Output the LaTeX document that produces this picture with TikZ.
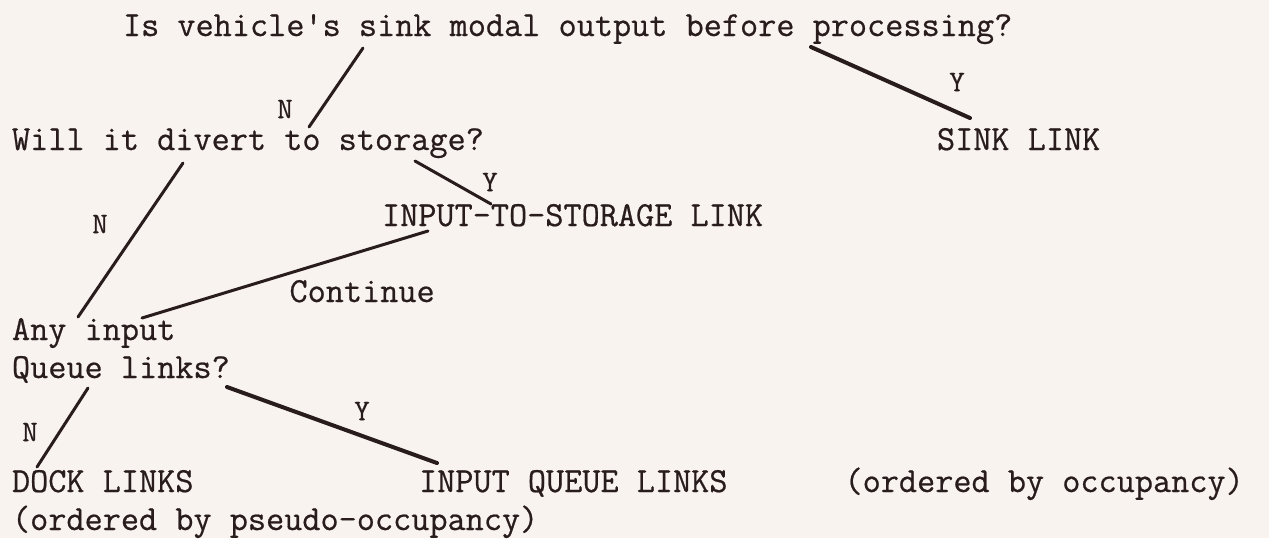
\documentclass[tikz,border=0pt]{standalone}
\usepackage{fontspec}
\setmonofont{Latin Modern Mono}[FakeBold=0.6]
\usetikzlibrary{calc}
\definecolor{paper}{RGB}{248,243,238}
\definecolor{ink}{RGB}{40,28,28}
\tikzset{
  txt/.style={anchor=base west, inner sep=0pt, outer sep=0pt, text=ink,
              font=\fontsize{17.62}{19}\selectfont\ttfamily},
  lbl/.style={anchor=center, inner sep=0pt, outer sep=0pt, text=ink,
              font=\fontsize{15}{16}\selectfont\ttfamily},
  branch/.style={draw=ink, line width=1.5pt, line cap=round},
  heavy/.style={branch, line width=2pt},
}
\begin{document}
\begin{tikzpicture}[x=0.5pt,y=-0.5pt]
% sheet
\fill[paper] (0,0) rectangle (1269,538);
\useasboundingbox (0,0) rectangle (1269,538);

% typed lines (column pitch 18.5, line pitch 38)
\node[txt] (top)   at (123,36)   {Is vehicle's sink modal output before processing?};
\node[txt] (div)   at (12,150)   {Will it divert to storage?};
\node[txt] (sink)  at (937,150)  {SINK LINK};
\node[txt] (its)   at (382,226)  {INPUT-TO-STORAGE LINK};
\node[txt] (cont)  at (289.5,302){Continue};
\node[txt] (any1)  at (12,340)   {Any input};
\node[txt] (any2)  at (12,378)   {Queue links?};
\node[txt] (dock)  at (12,492)   {DOCK LINKS};
\node[txt] (dock2) at (12,530)   {(ordered by pseudo-occupancy)};
\node[txt] (iql)   at (419,492)  {INPUT QUEUE LINKS};
\node[txt] (occ)   at (844.5,492){(ordered by occupancy)};

% branch answers
\node[lbl] (n1) at (285,109) {N};
\node[lbl] (y1) at (957,82)  {Y};
\node[lbl] (n2) at (100,224) {N};
\node[lbl] (y2) at (490,182) {Y};
\node[lbl] (n3) at (30,432)  {N};
\node[lbl] (y3) at (362,411) {Y};

% branches
\draw[branch] ($(top.base west)+(240,12)$) -- ($(div.base west)+(297,-23)$);
\draw[heavy]  ($(top.base west)+(688,11)$) -- ($(sink.base west)+(33,-32)$);
\draw[branch] ($(div.base west)+(171,13)$) -- ($(any1.base west)+(66,-23)$);
\draw[branch] ($(div.base west)+(403,11)$) -- ($(its.base west)+(109,-22)$);
\draw[branch] ($(its.base west)+(46,5)$)   -- ($(any1.base west)+(130,-22)$);
\draw[branch] ($(any2.base west)+(76,10)$) -- ($(dock.base west)+(25,-25)$);
\draw[heavy]  ($(any2.base west)+(215,9)$) -- ($(iql.base west)+(18,-29)$);
\end{tikzpicture}
\end{document}
